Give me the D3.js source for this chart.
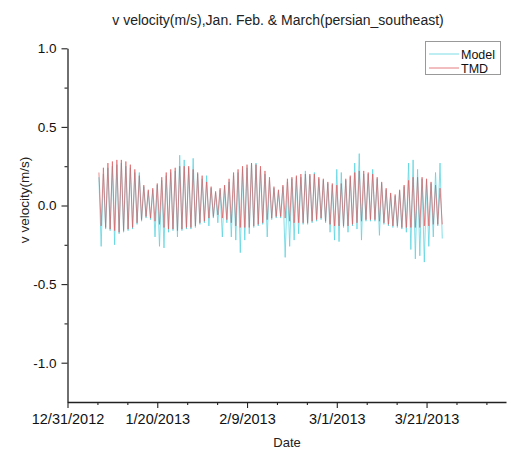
<!DOCTYPE html>
<html>
<head>
<meta charset="utf-8">
<script src="https://cdn.jsdelivr.net/npm/d3@7"></script>
<style>
  html, body { margin: 0; padding: 0; background: #fff; }
  svg { display: block; font-family: "Liberation Sans", Arial, sans-serif; }
</style>
</head>
<body>
<svg id="chart" width="511" height="450"></svg>
<script>
// ---- data (one value per day, starting 2013-01-07) ----
const startDay = "2013-01-07";
const tmdHigh = [0.21,0.24,0.27,0.28,0.29,0.29,0.28,0.26,0.23,0.19,0.13,0.10,0.11,0.14,0.18,0.21,0.23,0.24,0.25,0.25,0.25,0.23,0.21,0.19,0.15,0.12,0.09,0.11,0.13,0.17,0.21,0.23,0.25,0.26,0.27,0.26,0.25,0.22,0.18,0.12,0.10,0.13,0.17,0.18,0.19,0.20,0.20,0.20,0.20,0.18,0.17,0.15,0.14,0.13,0.14,0.17,0.19,0.21,0.22,0.22,0.21,0.20,0.18,0.15,0.11,0.08,0.07,0.10,0.13,0.16,0.18,0.18,0.18,0.17,0.15,0.13,0.11];
const tmdLow = [-0.13,-0.14,-0.15,-0.16,-0.17,-0.16,-0.15,-0.14,-0.11,-0.09,-0.07,-0.08,-0.10,-0.12,-0.14,-0.15,-0.15,-0.16,-0.15,-0.14,-0.14,-0.13,-0.11,-0.10,-0.08,-0.07,-0.06,-0.08,-0.09,-0.11,-0.13,-0.14,-0.14,-0.14,-0.13,-0.12,-0.11,-0.09,-0.08,-0.07,-0.07,-0.08,-0.10,-0.11,-0.11,-0.11,-0.11,-0.10,-0.09,-0.08,-0.10,-0.12,-0.13,-0.13,-0.13,-0.13,-0.12,-0.11,-0.10,-0.09,-0.09,-0.09,-0.10,-0.11,-0.12,-0.13,-0.13,-0.14,-0.14,-0.14,-0.14,-0.14,-0.13,-0.13,-0.12,-0.12,-0.12];
const modelHigh = [0.18,0.20,0.24,0.25,0.26,0.27,0.25,0.24,0.21,0.21,0.12,0.09,0.10,0.13,0.16,0.19,0.21,0.22,0.32,0.29,0.24,0.30,0.20,0.17,0.19,0.11,0.08,0.10,0.12,0.15,0.19,0.21,0.23,0.24,0.27,0.27,0.23,0.20,0.16,0.11,0.09,0.12,0.15,0.17,0.18,0.18,0.22,0.19,0.21,0.17,0.16,0.14,0.13,0.23,0.21,0.16,0.18,0.27,0.33,0.20,0.20,0.23,0.17,0.14,0.10,0.07,0.06,0.09,0.12,0.27,0.29,0.23,0.17,0.16,0.14,0.21,0.27];
const modelLow = [-0.26,-0.15,-0.16,-0.25,-0.18,-0.17,-0.16,-0.15,-0.12,-0.10,-0.08,-0.09,-0.20,-0.26,-0.27,-0.17,-0.16,-0.20,-0.16,-0.15,-0.15,-0.14,-0.12,-0.11,-0.13,-0.08,-0.11,-0.20,-0.11,-0.20,-0.22,-0.30,-0.22,-0.18,-0.14,-0.13,-0.12,-0.20,-0.09,-0.08,-0.08,-0.33,-0.26,-0.22,-0.18,-0.12,-0.12,-0.11,-0.10,-0.09,-0.11,-0.17,-0.22,-0.23,-0.14,-0.17,-0.13,-0.15,-0.22,-0.10,-0.10,-0.10,-0.19,-0.12,-0.13,-0.14,-0.14,-0.15,-0.17,-0.28,-0.34,-0.32,-0.36,-0.26,-0.20,-0.13,-0.21];
const xTickLabels = ["12/31/2012","1/20/2013","2/9/2013","3/1/2013","3/21/2013"];
const yTickValues = [-1.0,-0.5,0.0,0.5,1.0];
const seriesNames = ["Model","TMD"];
const seriesColors = ["#5ad4df","#de5a5e"];

// ---- layout ----
const svg = d3.select("#chart");
const mLeft = 67.5, mRight = 506, mTop = 48.3, mBottom = 402;
const DAY = 86400000;
const parse = d3.timeParse("%m/%d/%Y");
const x0 = parse(xTickLabels[0]);
const xEnd = new Date(x0.getTime() + 97.7 * DAY);
const x = d3.scaleTime().domain([x0, xEnd]).range([mLeft, mRight]);
const y = d3.scaleLinear().domain([-1.25, 1.0]).range([mBottom, mTop]);

function buildSeries(hi, lo) {
  const s = d3.timeParse("%Y-%m-%d")(startDay).getTime();
  const pts = [];
  hi.forEach((h, i) => {
    pts.push({ t: new Date(s + i * DAY), v: h });
    pts.push({ t: new Date(s + (i + 0.5) * DAY), v: lo[i] });
  });
  return pts;
}
const series = [buildSeries(modelHigh, modelLow), buildSeries(tmdHigh, tmdLow)];
const line = d3.line().x(d => x(d.t)).y(d => y(d.v));

series.forEach((pts, i) => {
  svg.append("path").datum(pts)
    .attr("fill", "none")
    .attr("stroke", seriesColors[i])
    .attr("stroke-width", i === 0 ? 0.85 : 0.75)
    .attr("stroke-opacity", 0.9)
    .attr("d", line);
});

// ---- axes ----
const majorX = xTickLabels.map(parse);
const minorX = [];
for (let k = 0; k < 15; k++) {
  const t = new Date(x0.getTime() + k * (20 / 3) * DAY);
  if (k % 3 !== 0 && t <= xEnd) minorX.push(t);
}
const fmtX = d3.timeFormat("%-m/%-d/%Y");
const fmtY = v => (v < 0 ? "-" : "") + Math.abs(v).toFixed(1);

const gx = svg.append("g").attr("transform", `translate(0,${mBottom})`);
gx.call(d3.axisBottom(x).tickValues(majorX).tickFormat(fmtX).tickSize(6).tickSizeOuter(0).tickPadding(6));
gx.selectAll(".tick text").attr("font-size", 14.5);
const gxm = svg.append("g").attr("transform", `translate(0,${mBottom})`);
gxm.call(d3.axisBottom(x).tickValues(minorX).tickFormat("").tickSize(3).tickSizeOuter(0));
gxm.select(".domain").remove();

const minorY = [-0.75, -0.25, 0.25, 0.75];
const gy = svg.append("g").attr("transform", `translate(${mLeft},0)`);
gy.call(d3.axisLeft(y).tickValues(yTickValues).tickFormat(fmtY).tickSize(6).tickSizeOuter(0).tickPadding(5));
gy.selectAll(".tick text").attr("font-size", 13.5);
const gym = svg.append("g").attr("transform", `translate(${mLeft},0)`);
gym.call(d3.axisLeft(y).tickValues(minorY).tickFormat("").tickSize(3).tickSizeOuter(0));
gym.select(".domain").remove();

svg.selectAll(".domain").attr("stroke", "#222").attr("stroke-width", 1.3);
svg.selectAll(".tick line").attr("stroke", "#222").attr("stroke-width", 1.1);
svg.selectAll(".tick text").attr("fill", "#111").attr("font-family", "Liberation Sans, Arial, sans-serif");

// ---- titles ----
svg.append("text").attr("x", 278).attr("y", 25).attr("text-anchor", "middle")
  .attr("font-size", 14).attr("fill", "#222")
  .text("v velocity(m/s),Jan. Feb. & March(persian_southeast)");
svg.append("text").attr("x", 287).attr("y", 447).attr("text-anchor", "middle")
  .attr("font-size", 13).attr("fill", "#222").text("Date");
svg.append("text").attr("transform", "translate(29,200) rotate(-90)").attr("text-anchor", "middle")
  .attr("font-size", 13.5).attr("fill", "#222").text("v velocity(m/s)");

// ---- legend ----
const lg = svg.append("g");
lg.append("rect").attr("x", 425.5).attr("y", 41.5).attr("width", 75).attr("height", 33)
  .attr("fill", "#fff").attr("stroke", "#999").attr("stroke-width", 1);
seriesNames.forEach((n, i) => {
  const yy = 54 + i * 14;
  lg.append("line").attr("x1", 429).attr("x2", 459).attr("y1", yy).attr("y2", yy)
    .attr("stroke", seriesColors[i]).attr("stroke-width", 0.8);
  lg.append("text").attr("x", 461).attr("y", yy + 4.5).attr("font-size", 12.5).attr("fill", "#111").text(n);
});
</script>
</body>
</html>
